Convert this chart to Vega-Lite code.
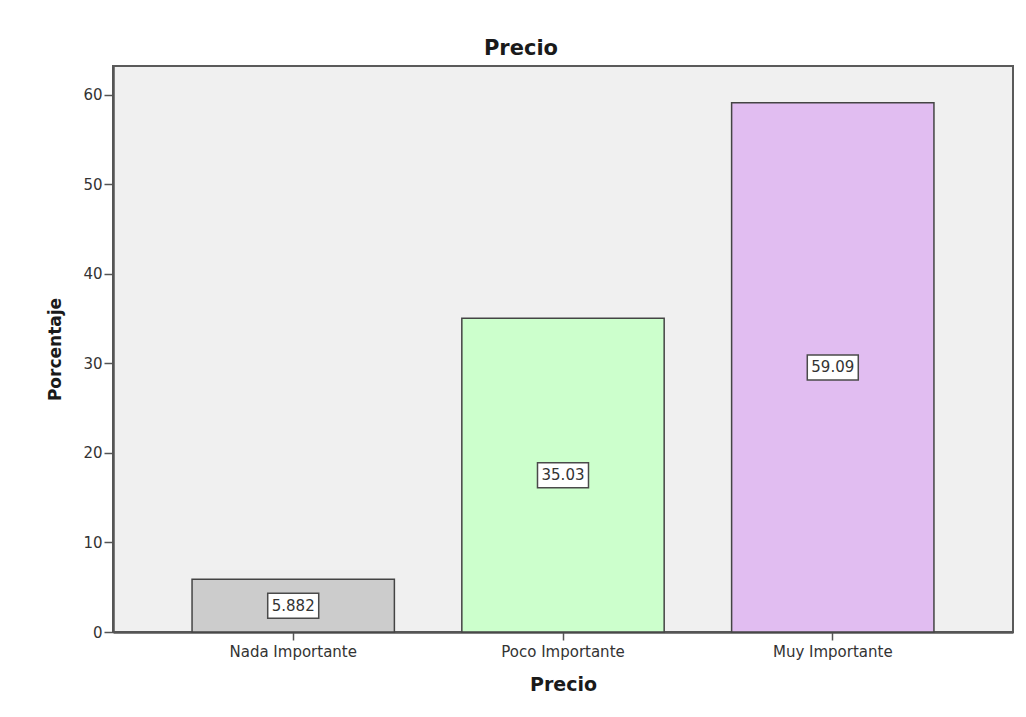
{
  "$schema": "https://vega.github.io/schema/vega-lite/v6.json",
  "width": 900,
  "height": 566,
  "autosize": {"type": "none"},
  "padding": {"left": 113, "top": 66, "right": 13, "bottom": 85},
  "background": "#ffffff",
  "title": {
    "text": "Precio",
    "font": "DejaVu Sans",
    "fontSize": 21,
    "fontWeight": "bold",
    "color": "#1a1a1a",
    "anchor": "middle",
    "dx": -42,
    "offset": 7
  },
  "config": {
    "view": {"fill": "#f0f0f0", "stroke": "#5a5a5a", "strokeWidth": 2},
    "axis": {
      "labelFont": "DejaVu Sans",
      "labelFontSize": 15,
      "labelColor": "#333333",
      "titleFont": "DejaVu Sans",
      "titleFontWeight": "bold",
      "titleColor": "#1a1a1a",
      "domainColor": "#555555",
      "domainWidth": 2.5,
      "tickColor": "#555555",
      "tickWidth": 1.5,
      "grid": false
    }
  },
  "data": {
    "values": [
      {"categoria": "Nada Importante", "pct": 5.882},
      {"categoria": "Poco Importante", "pct": 35.03},
      {"categoria": "Muy Importante", "pct": 59.09}
    ]
  },
  "transform": [{"calculate": "datum.pct / 2", "as": "mitad"}],
  "encoding": {
    "x": {
      "field": "categoria",
      "type": "nominal",
      "sort": ["Nada Importante", "Poco Importante", "Muy Importante"],
      "scale": {"paddingInner": 0.25, "paddingOuter": 0.293},
      "axis": {
        "title": "Precio",
        "titleFontSize": 19,
        "titlePadding": 16,
        "labelAngle": 0,
        "tickSize": 8,
        "labelPadding": 4
      }
    }
  },
  "layer": [
    {
      "mark": {"type": "bar", "stroke": "#444444", "strokeWidth": 1.5},
      "encoding": {
        "y": {
          "field": "pct",
          "type": "quantitative",
          "scale": {"domain": [0, 63.2], "nice": false},
          "axis": {
            "title": "Porcentaje",
            "titleFontSize": 17,
            "titlePadding": 18,
            "values": [0, 10, 20, 30, 40, 50, 60],
            "tickSize": 9,
            "labelPadding": 2
          }
        },
        "color": {
          "field": "categoria",
          "type": "nominal",
          "scale": {
            "domain": ["Nada Importante", "Poco Importante", "Muy Importante"],
            "range": ["#cccccc", "#ccffcc", "#e1bdf1"]
          },
          "legend": null
        }
      }
    },
    {
      "mark": {
        "type": "point",
        "shape": "M-1,-0.49H1V0.49H-1Z",
        "size": 2601,
        "filled": true,
        "fill": "#ffffff",
        "stroke": "#4a4a4a",
        "strokeWidth": 1.5,
        "opacity": 1
      },
      "encoding": {
        "y": {"field": "mitad", "type": "quantitative"}
      }
    },
    {
      "mark": {
        "type": "text",
        "font": "DejaVu Sans",
        "fontSize": 15,
        "color": "#333333",
        "baseline": "middle",
        "align": "center"
      },
      "encoding": {
        "y": {"field": "mitad", "type": "quantitative"},
        "text": {"field": "pct", "type": "nominal"}
      }
    }
  ]
}
